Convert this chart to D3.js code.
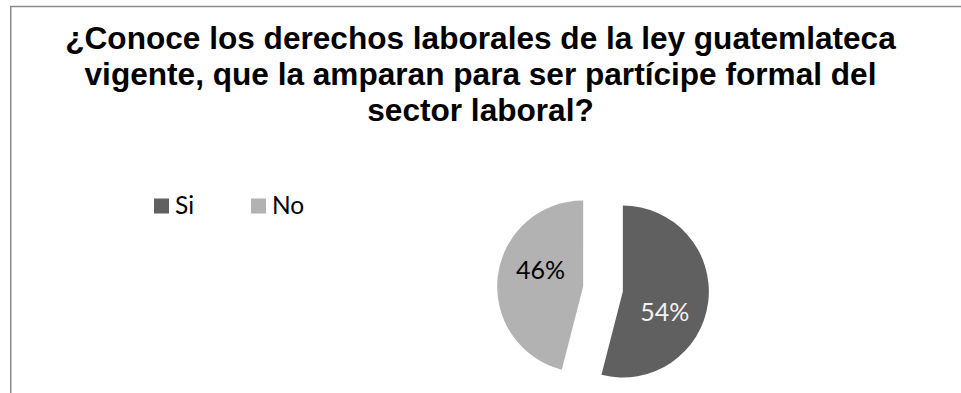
<!DOCTYPE html>
<html>
<head>
<meta charset="utf-8">
<script src="https://cdn.jsdelivr.net/npm/d3@7"></script>
<style>
  html, body { margin: 0; padding: 0; background: #fff; }
  svg { display: block; }
</style>
</head>
<body>
<svg id="chart" width="961" height="393"></svg>
<script>
// Survey answers and their shares
const categories = ["Si", "No"];
const values = [54, 46];
const colors = ["#606060", "#b2b2b2"];
const labelColors = ["#f2f2f2", "#000000"];
const titleLines = [
  "¿Conoce los derechos laborales de la ley guatemlateca",
  "vigente, que la amparan para ser partícipe formal del",
  "sector laboral?"
];

const svg = d3.select("#chart");
const W = 961, H = 393;

// Chart area frame (extends past the right and bottom edges)
svg.append("rect")
  .attr("x", 10.75).attr("y", 6.5)
  .attr("width", W).attr("height", H)
  .attr("fill", "none")
  .attr("stroke", "#8a8a8a")
  .attr("stroke-width", 1.5);

// Title
svg.append("g")
  .selectAll("text")
  .data(titleLines)
  .join("text")
  .attr("x", 480.5)
  .attr("y", (d, i) => 49 + i * 35.8)
  .attr("text-anchor", "middle")
  .attr("font-family", "'Liberation Sans', Arial, sans-serif")
  .attr("font-weight", "bold")
  .attr("font-size", 31.6)
  .attr("fill", "#000")
  .text(d => d);

// Legend
const legend = svg.append("g");
const legendX = d3.scalePoint().domain(categories).range([154, 251]);
const items = legend.selectAll("g").data(categories).join("g")
  .attr("transform", d => `translate(${legendX(d)},0)`);
items.append("rect")
  .attr("x", 0).attr("y", 198.5)
  .attr("width", 15).attr("height", 15)
  .attr("fill", (d, i) => colors[i]);
items.append("text")
  .attr("x", 21).attr("y", 213.5)
  .attr("font-family", "Lato, 'Open Sans', sans-serif")
  .attr("font-size", 24.5)
  .attr("fill", "#000")
  .text(d => d);

// Pie with both slices pulled out from the centre
const cx = 603, cy = 289, r = 86, explode = 20;
const pie = d3.pie().sort(null).value(d => d)(values);
const arc = d3.arc().innerRadius(0).outerRadius(r);
const total = d3.sum(values);

const slices = svg.append("g").attr("transform", `translate(${cx},${cy})`)
  .selectAll("g").data(pie).join("g")
  .attr("transform", d => {
    const mid = (d.startAngle + d.endAngle) / 2;
    return `translate(${explode * Math.sin(mid)},${-explode * Math.cos(mid)})`;
  });

slices.append("path")
  .attr("d", arc)
  .attr("fill", (d, i) => colors[i]);

slices.append("text")
  .attr("transform", d => {
    const a = d.startAngle + 0.59 * (d.endAngle - d.startAngle);
    const lr = r * 0.535;
    return `translate(${lr * Math.sin(a)},${-lr * Math.cos(a)})`;
  })
  .attr("text-anchor", "middle")
  .attr("dominant-baseline", "central")
  .attr("font-family", "Lato, 'Open Sans', sans-serif")
  .attr("font-size", 25)
  .attr("fill", (d, i) => labelColors[i])
  .text(d => Math.round(d.value / total * 100) + "%");
</script>
</body>
</html>
